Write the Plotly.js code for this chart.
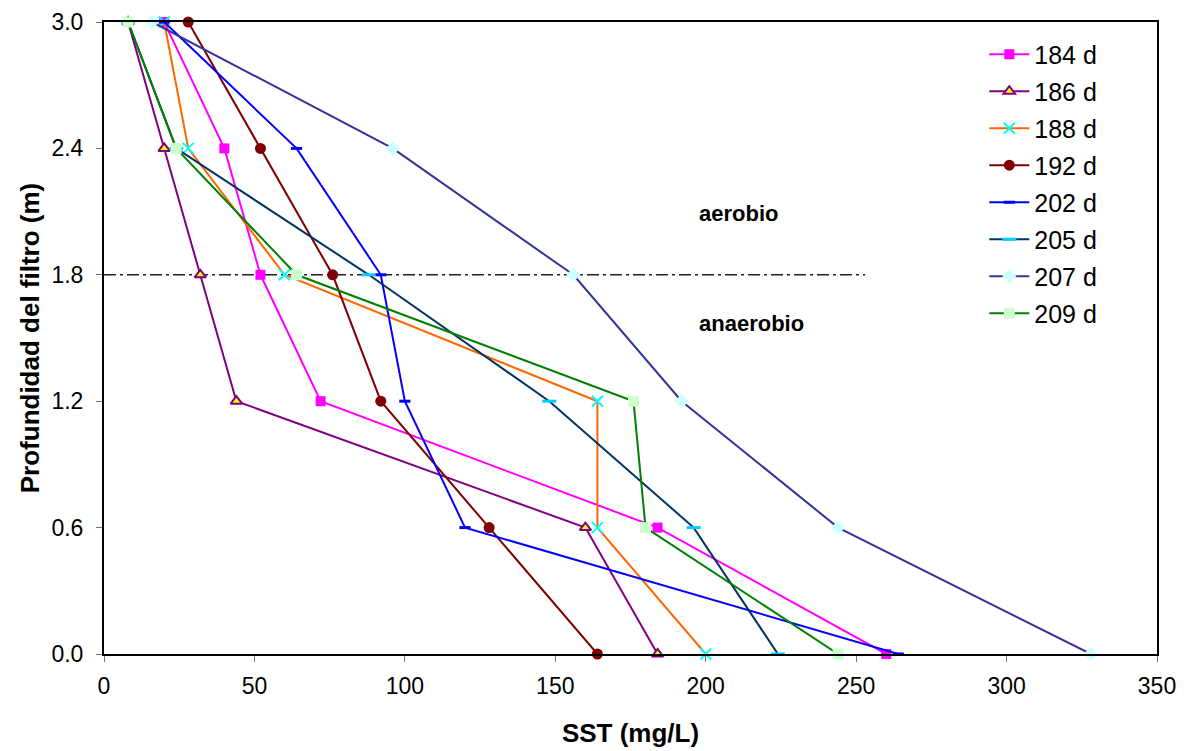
<!DOCTYPE html>
<html>
<head>
<meta charset="utf-8">
<script src="https://cdn.plot.ly/plotly-3.0.1.min.js"></script>
<style>html,body{margin:0;padding:0;background:#fff;}#chart{width:1191px;height:751px;}</style>
</head>
<body>
<div id="chart"></div>
<script>
const depth = [3.0, 2.4, 1.8, 1.2, 0.6, 0.0];
const seriesNames = ["184 d", "186 d", "188 d", "192 d", "202 d", "205 d", "207 d", "209 d"];
const sst184 = [20, 40, 52, 72, 184, 260];
const sst186 = [8, 20, 32, 44, 160, 184];
const sst188 = [20, 28, 60, 164, 164, 200];
const sst192 = [28, 52, 76, 92, 128, 164];
const sst202 = [20, 64, 92, 100, 120, 264];
const sst205 = [8, 24, 88, 148, 196, 224];
const sst207 = [16, 96, 156, 192, 244, 328];
const sst209 = [8, 24, 64, 176, 180, 244];
const boundaryDepth = 1.8;
const boundaryEndX = 253;
const zoneLabels = ["aerobio", "anaerobio"];

const values = [sst184, sst186, sst188, sst192, sst202, sst205, sst207, sst209];
const styles = [
  {line: '#FF00FF', marker: {symbol: 'square', color: '#FF00FF', size: 10}},
  {line: '#800080', marker: {symbol: 'triangle-up', color: '#FFFF00', size: 10, line: {color: '#800080', width: 2}}},
  {line: '#FF6600', marker: {symbol: 'x-thin', color: '#00FFFF', size: 11, line: {color: '#00FFFF', width: 2}}},
  {line: '#800000', marker: {symbol: 'circle', color: '#800000', size: 11}},
  {line: '#0000FF', marker: {symbol: 'line-ew', color: '#0000FF', size: 8, line: {color: '#0000FF', width: 3}}},
  {line: '#003366', marker: {symbol: 'line-ew', color: '#00CCFF', size: 10, line: {color: '#00CCFF', width: 3}}},
  {line: '#333399', marker: {symbol: 'diamond', color: '#CCFFFF', size: 11}},
  {line: '#008000', marker: {symbol: 'square', color: '#CCFFCC', size: 11}}
];

const traces = values.map((v, i) => ({
  type: 'scatter', mode: 'lines+markers', name: seriesNames[i],
  legendgroup: 'g' + i,
  x: v, y: depth,
  line: {color: styles[i].line, width: 2},
  marker: styles[i].marker,
  cliponaxis: false
}));

const layout = {
  width: 1191, height: 751,
  margin: {l: 104, r: 34, t: 22, b: 97},
  paper_bgcolor: '#fff', plot_bgcolor: '#fff',
  font: {family: 'Liberation Sans, Arial, sans-serif', color: '#000'},
  showlegend: true,
  legend: {x: 0.836, y: 0.985, xanchor: 'left', yanchor: 'top', font: {size: 25, color: '#000'},
           bgcolor: 'rgba(0,0,0,0)', tracegroupgap: 1.5, itemwidth: 40},
  xaxis: {range: [0, 350], tickmode: 'linear', tick0: 0, dtick: 50, showgrid: false, zeroline: false,
          showline: true, linecolor: '#000', linewidth: 2, mirror: true,
          ticks: 'outside', ticklen: 6, tickcolor: '#777', tickfont: {size: 23}, ticklabelstandoff: 4,
          title: {text: '<b>SST (mg/L)</b>', font: {size: 26}, standoff: 26}},
  yaxis: {range: [0, 3.0], tickmode: 'linear', tick0: 0, dtick: 0.6, tickformat: '.1f', showgrid: false, zeroline: false,
          showline: true, linecolor: '#000', linewidth: 2, mirror: true,
          ticks: 'outside', ticklen: 6, tickcolor: '#777', tickfont: {size: 23}, ticklabelstandoff: 8,
          title: {text: '<b>Profundidad del filtro (m)</b>', font: {size: 26}, standoff: 4}},
  shapes: [{type: 'line', xref: 'x', yref: 'y', x0: 0, x1: boundaryEndX, y0: boundaryDepth, y1: boundaryDepth,
            line: {color: '#222', width: 1.5, dash: '12px,4px,3px,4px'}, layer: 'below'}],
  annotations: [
    {xref: 'x', yref: 'y', x: 197, y: 2.09, text: '<b>' + zoneLabels[0] + '</b>', showarrow: false, xanchor: 'left', yanchor: 'middle', font: {size: 22, color: '#000'}},
    {xref: 'x', yref: 'y', x: 197, y: 1.57, text: '<b>' + zoneLabels[1] + '</b>', showarrow: false, xanchor: 'left', yanchor: 'middle', font: {size: 22, color: '#000'}}
  ]
};

Plotly.newPlot('chart', traces, layout, {displayModeBar: false, staticPlot: true});
</script>
</body>
</html>
